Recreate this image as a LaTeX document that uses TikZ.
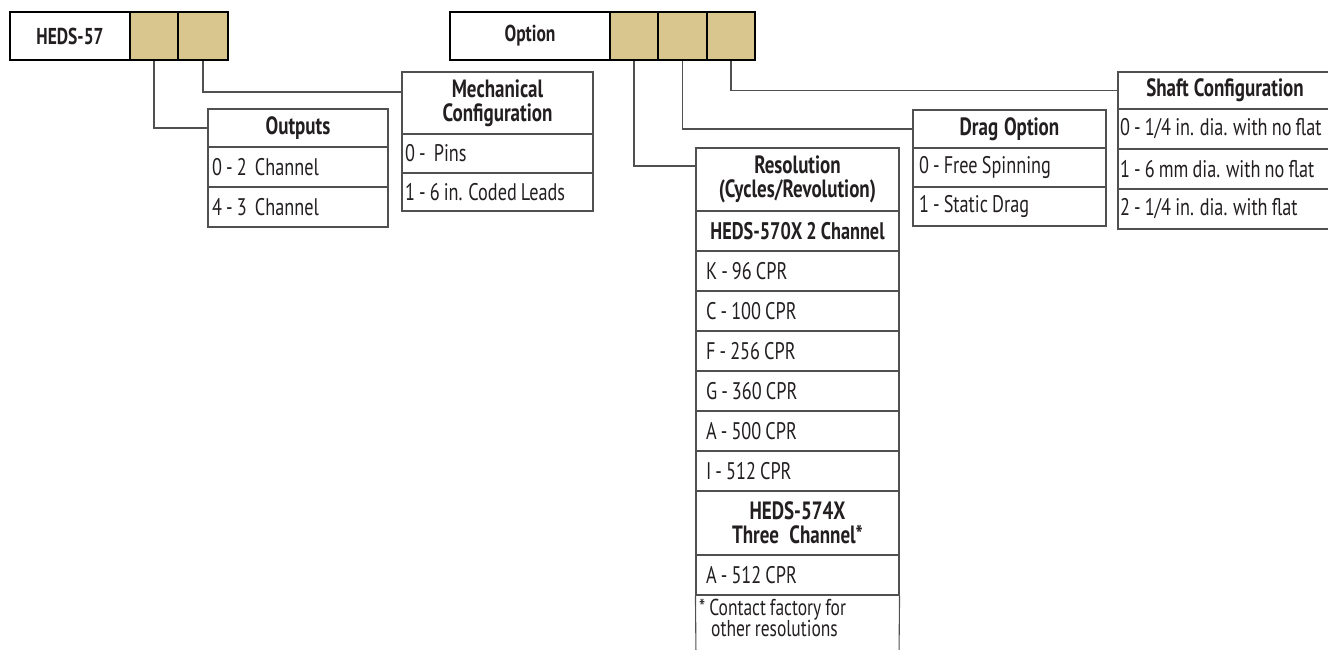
\documentclass[tikz,border=0pt]{standalone}
\usepackage{fontspec}
\setmainfont[FakeStretch=0.76, WordSpace=0.85]{PT Sans}
\definecolor{tancol}{RGB}{217,197,142}
\definecolor{lc}{RGB}{80,80,80}
\definecolor{txt}{RGB}{35,31,32}
\begin{document}
\begin{tikzpicture}[x=1pt,y=-1pt,
 hdr/.style={draw=black, line width=2.6pt, minimum height=48pt, inner sep=0pt, font=\fontsize{23}{26}\selectfont\bfseries, text=txt},
 tancell/.style={hdr, fill=tancol},
 row/.style={draw=lc, line width=1.1pt, inner ysep=0pt, font=\fontsize{24}{25}\selectfont, text=txt, align=left,
   execute at begin node={\spaceskip=0pt\xspaceskip=0pt}},
 ttl/.style={row, font=\fontsize{25}{24}\selectfont\bfseries, align=center},
 outs/.style={minimum width=180pt, inner xsep=4pt, text width=172pt},
 mechs/.style={minimum width=191pt, inner xsep=3pt, text width=185pt},
 ress/.style={minimum width=203pt, inner xsep=10pt, text width=183pt},
 drags/.style={minimum width=193pt, inner xsep=6pt, text width=181pt},
 shafts/.style={minimum width=214pt, inner xsep=2pt, text width=210pt},
 conn/.style={draw=lc, line width=1.1pt},
]
\useasboundingbox (0,0) rectangle (1328,650);
% headers
\node[hdr, minimum width=120pt] (h57) at (70,36) {HEDS-57};
\node[tancell, minimum width=48pt] (c1) at (154,36) {};
\node[tancell, minimum width=50pt] (c2) at (203,36) {};
\node[hdr, minimum width=160pt] (opt) at (530,36) {Option};
\node[tancell, minimum width=48pt] (o1) at (634,36) {};
\node[tancell, minimum width=49pt] (o2) at (682.5,36) {};
\node[tancell, minimum width=48pt] (o3) at (731,36) {};
% outputs
\node[ttl, outs, minimum height=38pt] (outt) at (298,128) {Outputs};
\node[row, outs, minimum height=40pt] (out0) at (298,167) {0 - 2\ \ Channel};
\node[row, outs, minimum height=40pt] (out4) at (298,207) {4 - 3\ \ Channel};
% mechanical
\node[ttl, mechs, minimum height=62pt] (mecht) at (497.5,103) {Mechanical\\Configuration};
\node[row, mechs, minimum height=39pt] (mech0) at (497.5,153.5) {0 -\ \ Pins};
\node[row, mechs, minimum height=38pt] (mech1) at (497.5,192) {1 - 6 in. Coded Leads};
% resolution
\node[ttl, ress, minimum height=63pt] (rest) at (797.5,179.5) {Resolution\\(Cycles/Revolution)};
\node[ttl, ress, minimum height=40pt, font=\fontsize{24}{24}\selectfont\bfseries] (res2) at (797.5,231) {HEDS-570X 2 Channel};
\node[row, ress, minimum height=40pt] (resK) at (797.5,271) {K - 96 CPR};
\node[row, ress, minimum height=40pt] (resC) at (797.5,311) {C - 100 CPR};
\node[row, ress, minimum height=40pt] (resF) at (797.5,351) {F - 256 CPR};
\node[row, ress, minimum height=40pt] (resG) at (797.5,391) {G - 360 CPR};
\node[row, ress, minimum height=40pt] (resA) at (797.5,431) {A - 500 CPR};
\node[row, ress, minimum height=40pt] (resI) at (797.5,471) {I - 512 CPR};
\node[ttl, ress, minimum height=64pt] (res3) at (797.5,523) {HEDS-574X\\Three\ \ Channel*};
\node[row, ress, minimum height=40pt] (resA5) at (797.5,575) {A - 512 CPR};
\node[anchor=north west, inner sep=0pt, align=left, text=txt, font=\fontsize{23}{21}\selectfont] (foot) at (699,599) {* Contact factory for\\\hspace{12pt}other resolutions};
\coordinate (fbl) at (696,656);
\coordinate (fbr) at (899,656);
\draw[conn] (resA5.south west) -- (fbl);
\draw[conn] (resA5.south east) -- (fbr);
% drag
\node[ttl, drags, minimum height=38pt] (dragt) at (1009.5,129) {Drag Option};
\node[row, drags, minimum height=39pt] (drag0) at (1009.5,167.5) {0 - Free Spinning};
\node[row, drags, minimum height=39pt] (drag1) at (1009.5,206.5) {1 - Static Drag};
% shaft
\node[ttl, shafts, minimum height=37pt] (shaftt) at (1225,90.5) {Shaft Configuration};
\node[row, shafts, minimum height=40pt] (s0) at (1225,129) {0 - 1/4 in. dia. with no flat};
\node[row, shafts, minimum height=40pt] (s1) at (1225,169) {1 - 6 mm dia. with no flat};
\node[row, shafts, minimum height=40pt] (s2) at (1225,209) {2 - 1/4 in. dia. with flat};
% connectors
\draw[conn] (c1.south) |- (outt.west);
\draw[conn] (c2.south) |- ([yshift=11pt]mecht.west);
\draw[conn] (o1.south) |- ([yshift=13.5pt]rest.west);
\draw[conn] (o2.south) |- (dragt.west);
\draw[conn] (o3.south) |- (shaftt.west);
\end{tikzpicture}
\end{document}
